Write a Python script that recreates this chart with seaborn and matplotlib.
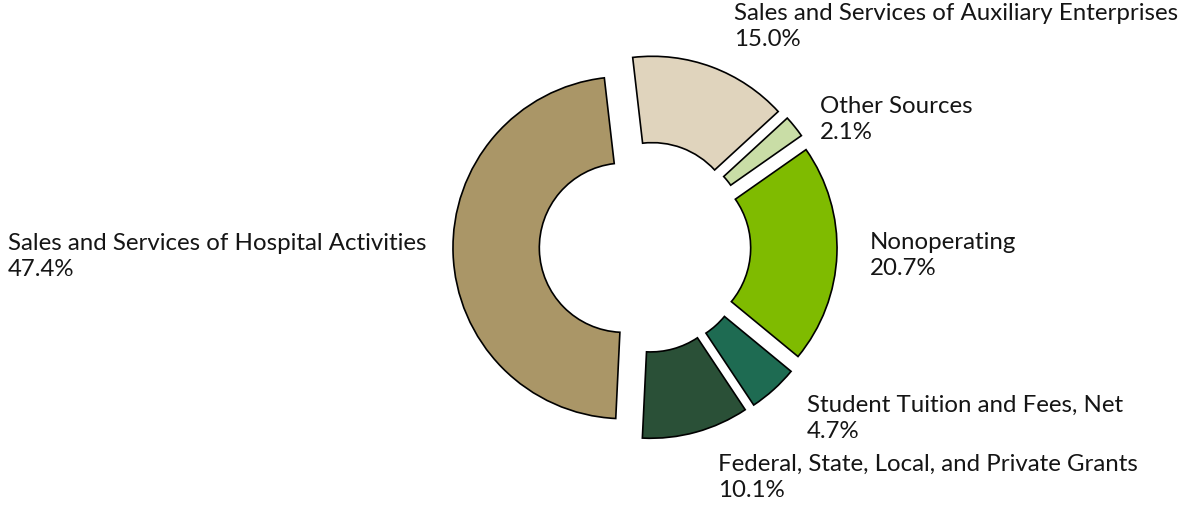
import matplotlib
matplotlib.use("Agg")
import matplotlib.pyplot as plt
import seaborn as sns

categories = [
    "Sales and Services of Auxiliary Enterprises",
    "Other Sources",
    "Nonoperating",
    "Student Tuition and Fees, Net",
    "Federal, State, Local, and Private Grants",
    "Sales and Services of Hospital Activities",
]
values = [15.0, 2.1, 20.7, 4.7, 10.1, 47.4]
colors = ["#E0D4BD", "#C9DDA6", "#7FBB00", "#1E6B52", "#2A5037", "#AA9667"]

# label anchor positions in pixels (left, cap-top) of the reference image
label_px = [(734, 6), (820, 99), (870, 235), (807, 398), (718, 457), (8, 236)]

sns.set_theme(style="white")
plt.rcParams["font.family"] = ["Lato", "DejaVu Sans"]

W, H, DPI = 1179, 508, 100
CX, CY, R = 645, 247, 171

fig = plt.figure(figsize=(W / DPI, H / DPI), dpi=DPI)
ax = fig.add_axes([0, 0, 1, 1])

wedges, _ = ax.pie(
    values,
    colors=colors,
    startangle=96.6,
    counterclock=False,
    explode=[0.123] * len(values),
    radius=1.0,
    wedgeprops=dict(width=0.505, edgecolor="black", linewidth=1.2),
)

ax.set_xlim(-CX / R, (W - CX) / R)
ax.set_ylim(-(H - CY) / R, CY / R)
ax.set_aspect("auto")
ax.axis("off")

for name, val, (px, py) in zip(categories, values, label_px):
    ax.text((px - CX) / R, (CY - (py - 3)) / R, f"{name}\n{val:.1f}%",
            ha="left", va="top", fontsize=17.3, color="#151515", linespacing=1.28)

fig.savefig("out.png", dpi=DPI)
